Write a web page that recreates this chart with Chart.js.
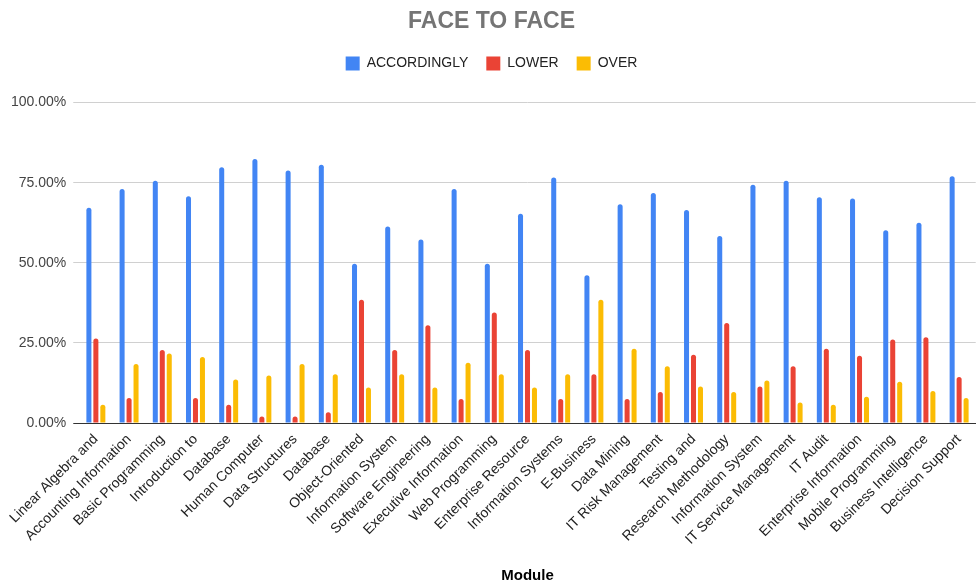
<!DOCTYPE html>
<html>
<head>
<meta charset="utf-8">
<script src="https://cdn.jsdelivr.net/npm/chart.js@4.4.0/dist/chart.umd.min.js"></script>
<style>
  html, body { margin: 0; padding: 0; background: #fff; }
  #wrap { width: 979px; height: 585px; }
</style>
</head>
<body>
<div id="wrap"><canvas id="faceChart" width="979" height="585"></canvas></div>
<script>
const modules = ['Linear Algebra and', 'Accounting Information', 'Basic Programming', 'Introduction to',
    'Database', 'Human Computer', 'Data Structures', 'Database', 'Object-Oriented', 'Information System',
    'Software Engineering', 'Executive Information', 'Web Programming', 'Enterprise Resource',
    'Information Systems', 'E-Business', 'Data Mining', 'IT Risk Management', 'Testing and',
    'Research Methodology', 'Information System', 'IT Service Management', 'IT Audit',
    'Enterprise Information', 'Mobile Programming', 'Business Intelligence', 'Decision Support'];

const accordingly = [67.2, 73.0, 75.6, 70.8, 79.8, 82.4, 78.8, 80.6, 49.7, 61.3, 57.3, 73.0, 49.7, 65.3,
    76.6, 46.1, 68.3, 71.8, 66.5, 58.4, 74.4, 75.6, 70.5, 70.1, 60.2, 62.5, 77.0];
const lower = [26.4, 7.8, 22.8, 7.8, 5.7, 2.0, 2.0, 3.4, 38.5, 22.8, 30.5, 7.5, 34.5, 22.8,
    7.5, 15.2, 7.5, 9.7, 21.3, 31.2, 11.4, 17.7, 23.2, 21.0, 26.1, 26.8, 14.4];
const over = [5.7, 18.4, 21.7, 20.6, 13.6, 14.8, 18.4, 15.2, 11.1, 15.2, 11.1, 18.8, 15.2, 11.1,
    15.2, 38.5, 23.2, 17.7, 11.4, 9.7, 13.3, 6.4, 5.7, 8.2, 12.9, 10.0, 7.8];

const yTicks = [0, 25, 50, 75, 100];

const FONT = '"Liberation Sans", Arial, sans-serif';

// extra space under the legend so the plot starts lower
const legendGap = {
    id: 'legendGap',
    beforeInit(chart) {
        const origFit = chart.legend.fit;
        chart.legend.fit = function () {
            origFit.bind(chart.legend)();
            this.height += 22;
        };
    }
};

const ctx = document.getElementById('faceChart').getContext('2d');
const barStyle = { borderRadius: 2.5, categoryPercentage: 0.63, barPercentage: 0.72 };

new Chart(ctx, {
    type: 'bar',
    data: {
        labels: modules,
        datasets: [
            { label: 'ACCORDINGLY', data: accordingly, backgroundColor: '#4285F4', ...barStyle },
            { label: 'LOWER', data: lower, backgroundColor: '#EA4335', ...barStyle },
            { label: 'OVER', data: over, backgroundColor: '#FBBC04', ...barStyle }
        ]
    },
    plugins: [legendGap],
    options: {
        responsive: false,
        animation: false,
        layout: { padding: { left: 4, right: 0, top: 0, bottom: 0 } },
        plugins: {
            title: {
                display: true,
                text: 'FACE TO FACE',
                color: '#757575',
                font: { family: FONT, size: 23, weight: 'bold' },
                padding: { top: 8, bottom: 3 }
            },
            legend: {
                position: 'top',
                labels: {
                    boxWidth: 14,
                    boxHeight: 14,
                    padding: 18,
                    color: '#222',
                    font: { family: FONT, size: 14 }
                }
            },
            tooltip: { enabled: false }
        },
        scales: {
            x: {
                grid: { display: false, drawTicks: false },
                border: { display: true, color: '#333' },
                ticks: {
                    autoSkip: false,
                    minRotation: 45,
                    maxRotation: 45,
                    padding: 8,
                    color: '#222',
                    font: { family: FONT, size: 14 }
                },
                title: {
                    display: true,
                    text: 'Module',
                    color: '#000',
                    font: { family: FONT, size: 15, weight: 'bold' },
                    padding: { top: 11, bottom: 0 }
                }
            },
            y: {
                min: 0,
                max: 100,
                afterBuildTicks: (axis) => { axis.ticks = yTicks.map(v => ({ value: v })); },
                border: { display: false },
                grid: {
                    color: (c) => (c.tick && c.tick.value === 0 ? '#333' : '#d0d0d0'),
                    tickLength: 6
                },
                ticks: {
                    padding: 7,
                    color: '#444',
                    font: { family: FONT, size: 14 },
                    callback: (v) => v.toFixed(2) + '%'
                }
            }
        }
    }
});
</script>
</body>
</html>
